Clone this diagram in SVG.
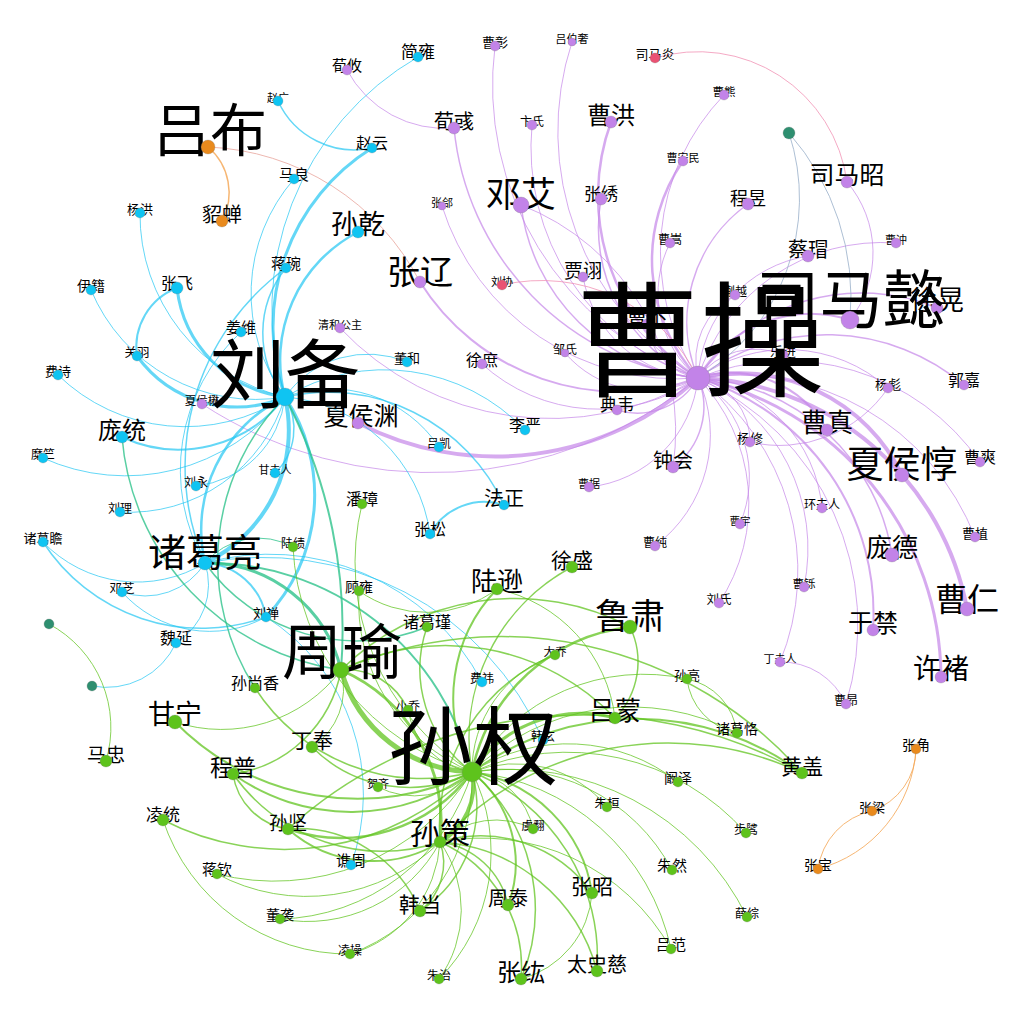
<svg xmlns="http://www.w3.org/2000/svg" width="1024" height="1024" viewBox="0 0 1024 1024">
<style>
.e path{fill:none;stroke-linecap:round}
.ew{stroke:#c586e8;stroke-opacity:.7}
.es{stroke:#22c6f2;stroke-opacity:.7}
.eu{stroke:#62c420;stroke-opacity:.75}
.ex{stroke:#2fc38c;stroke-opacity:.8}
.ep{stroke:#f08cb0;stroke-opacity:.75}
.eo{stroke:#f5a95a;stroke-opacity:.85}
.eg{stroke:#9fb4cc;stroke-opacity:.85}
.el{stroke:#e9a59c;stroke-opacity:.8}
circle{stroke:#777;stroke-opacity:.45;stroke-width:.6}
.nw{fill:#c283e8}.ns{fill:#0fc4f2}.nu{fill:#5ec31c}.no{fill:#e98a1d}.nr{fill:#ea5273}.nt{fill:#2e8f70}
text{font-family:"Noto Sans CJK SC","Noto Sans CJK JP",sans-serif;text-anchor:middle;fill:#000}
</style>
<rect width="1024" height="1024" fill="#fff"/>
<g id="edges" class="e">
<g class="ew">
<path d="M698 378A279 279 0 0 1 454 128" stroke-width="1.5"/>
<path d="M698 378A311 311 0 0 1 495 46"/>
<path d="M698 378A242 242 0 0 1 532 125"/>
<path d="M698 378A287 287 0 0 1 572 42"/>
<path d="M698 378A216 216 0 0 1 611 122" stroke-width="2.5"/>
<path d="M698 378A174 174 0 0 1 683 161" stroke-width="2.5"/>
<path d="M698 378A227 227 0 0 1 724 95"/>
<path d="M698 378A145 145 0 0 1 748 204" stroke-width="1.5"/>
<path d="M698 378A110 110 0 0 1 670 243"/>
<path d="M698 378A163 163 0 0 1 601 199" stroke-width="1.5"/>
<path d="M698 378A198 198 0 0 1 521 205" stroke-width="1.5"/>
<path d="M698 378A246 246 0 0 1 442 206"/>
<path d="M698 378A235 235 0 0 1 420 282" stroke-width="2"/>
<path d="M698 378A123 123 0 0 1 583 277"/>
<path d="M698 378A173 173 0 0 1 482 364"/>
<path d="M698 378A108 108 0 0 1 565 353"/>
<path d="M698 378A70 70 0 0 1 617 410" stroke-width="1.5"/>
<path d="M698 378A300 300 0 0 1 358 423" stroke-width="4"/>
<path d="M698 378A289 289 0 0 1 340 328"/>
<path d="M698 378A420 420 0 0 1 202 404"/>
<path d="M698 378A110 110 0 0 1 827 430" stroke-width="2"/>
<path d="M698 378A181 181 0 0 1 902 475" stroke-width="4"/>
<path d="M698 378A283 283 0 0 1 967 609" stroke-width="4"/>
<path d="M698 378A308 308 0 0 1 941 677" stroke-width="3"/>
<path d="M698 378A246 246 0 0 1 873 630" stroke-width="2"/>
<path d="M698 378A209 209 0 0 1 892 555" stroke-width="1.5"/>
<path d="M698 378A255 255 0 0 1 975 537"/>
<path d="M698 378A235 235 0 0 1 980 462"/>
<path d="M698 378A64 64 0 0 1 750 442"/>
<path d="M698 378A152 152 0 0 1 888 388"/>
<path d="M698 378A213 213 0 0 1 964 385" stroke-width="1.5"/>
<path d="M698 378A70 70 0 0 1 783 355"/>
<path d="M698 378A199 199 0 0 1 937 308" stroke-width="1.5"/>
<path d="M698 378A131 131 0 0 1 850 320" stroke-width="2"/>
<path d="M698 378A130 130 0 0 1 808 256"/>
<path d="M698 378A192 192 0 0 1 896 243"/>
<path d="M698 378A74 74 0 0 1 673 467" stroke-width="1.5"/>
<path d="M698 378A122 122 0 0 1 589 487"/>
<path d="M698 378A144 144 0 0 1 822 508"/>
<path d="M698 378A121 121 0 0 1 740 524"/>
<path d="M698 378A138 138 0 0 1 655 546"/>
<path d="M698 378A180 180 0 0 1 719 603"/>
<path d="M698 378A187 187 0 0 1 804 587"/>
<path d="M698 378A237 237 0 0 1 780 662"/>
<path d="M698 378A270 270 0 0 1 846 704"/>
<path d="M698 378A60 60 0 0 1 647 324"/>
<path d="M698 378A73 73 0 0 1 735 295"/>
<path d="M847 182A109 109 0 0 1 850 320"/>
<path d="M521 205A242 242 0 0 1 673 467"/>
<path d="M454 128A110 110 0 0 1 347 70"/>
<path d="M780 662A70 70 0 0 1 846 704"/>
<path d="M888 388A130 130 0 0 1 750 442"/>
</g>
<g class="ep">
<path d="M502 285A174 174 0 0 1 698 378"/>
<path d="M655 58A150 150 0 0 1 847 182"/>
</g>
<g class="eg">
<path d="M789 133A209 209 0 0 1 698 378"/>
<path d="M789 133A250 250 0 0 1 850 320"/>
</g>
<g class="el"><path d="M208 147A250 250 0 0 1 420 282"/></g>
<g class="eo">
<path d="M208 147A60 60 0 0 1 222 221" stroke-width="1.5"/>
<path d="M916 749A65 65 0 0 1 872 811"/>
<path d="M916 749A132 132 0 0 1 818 869"/>
<path d="M818 869A68 68 0 0 1 872 811"/>
</g>
<g class="es">
<path d="M285 397A292 292 0 0 1 418 57"/>
<path d="M285 397A211 211 0 0 1 372 148" stroke-width="3"/>
<path d="M285 397A174 174 0 0 1 294 179"/>
<path d="M285 397A144 144 0 0 1 358 232" stroke-width="2.5"/>
<path d="M285 397A103 103 0 0 1 286 268" stroke-width="1.5"/>
<path d="M285 397A178 178 0 0 1 91 290"/>
<path d="M285 397A187 187 0 0 1 140 213"/>
<path d="M285 397A124 124 0 0 1 177 288" stroke-width="3"/>
<path d="M285 397A123 123 0 0 1 137 356" stroke-width="3"/>
<path d="M285 397A182 182 0 0 1 58 375"/>
<path d="M285 397A134 134 0 0 1 122 437" stroke-width="2"/>
<path d="M285 397A200 200 0 0 1 43 458"/>
<path d="M285 397A61 61 0 0 1 275 473" stroke-width="1.5"/>
<path d="M285 397A100 100 0 0 1 196 486"/>
<path d="M285 397A162 162 0 0 1 120 512"/>
<path d="M285 397A147 147 0 0 1 205 563" stroke-width="4"/>
<path d="M205 563A147 147 0 0 1 285 397" stroke-width="2.5"/>
<path d="M285 397A177 177 0 0 1 266 617" stroke-width="3"/>
<path d="M285 397A101 101 0 0 1 407 362"/>
<path d="M285 397A194 194 0 0 1 525 430"/>
<path d="M285 397A130 130 0 0 1 439 447"/>
<path d="M285 397A194 194 0 0 1 504 505" stroke-width="1.5"/>
<path d="M285 397A159 159 0 0 1 430 534"/>
<path d="M137 356A63 63 0 0 1 177 288" stroke-width="2"/>
<path d="M372 148A84 84 0 0 1 278 101" stroke-width="1.5"/>
<path d="M430 534A62 62 0 0 1 504 505" stroke-width="2"/>
<path d="M205 563A187 187 0 0 1 241 332"/>
<path d="M205 563A130 130 0 0 1 43 542"/>
<path d="M266 617A189 189 0 0 1 43 542" stroke-width="1.5"/>
<path d="M205 563A70 70 0 0 1 122 592"/>
<path d="M266 617A117 117 0 0 1 122 592"/>
<path d="M205 563A65 65 0 0 1 266 617" stroke-width="2"/>
<path d="M205 563A68 68 0 0 1 176 643"/>
<path d="M176 643A76 76 0 0 1 92 686"/>
<path d="M205 563A240 240 0 0 1 482 682"/>
<path d="M205 563A245 245 0 0 1 286 268" stroke-width="1.5"/>
<path d="M266 617A209 209 0 0 1 351 865"/>
<path d="M205 563A305 305 0 0 1 543 740"/>
</g>
<g class="ex">
<path d="M285 397A500 500 0 0 1 341 670" stroke-width="2"/>
<path d="M255 688A234 234 0 0 1 285 397" stroke-width="1.5"/>
<path d="M205 563A139 139 0 0 1 341 670" stroke-width="3"/>
<path d="M205 563A271 271 0 0 1 472 772" stroke-width="2"/>
<path d="M427 627A186 186 0 0 1 205 563" stroke-width="1.5"/>
<path d="M205 563A70 70 0 0 1 293 547"/>
<path d="M341 670A257 257 0 0 1 122 437" stroke-width="1.5"/>
</g>
<g class="eu">
<path d="M49 624A117 117 0 0 1 106 761"/>
<path d="M472 772A140 140 0 0 1 341 670" stroke-width="5"/>
<path d="M472 772A183 183 0 0 1 630 627" stroke-width="2.5"/>
<path d="M472 772A157 157 0 0 1 497 589" stroke-width="2"/>
<path d="M472 772A130 130 0 0 1 615 718" stroke-width="3"/>
<path d="M472 772A65 65 0 0 1 440 842" stroke-width="4"/>
<path d="M472 772A163 163 0 0 1 288 829" stroke-width="2.5"/>
<path d="M472 772A144 144 0 0 1 592 893" stroke-width="2"/>
<path d="M472 772A117 117 0 0 1 508 905" stroke-width="2"/>
<path d="M472 772A256 256 0 0 1 175 722" stroke-width="2"/>
<path d="M472 772A280 280 0 0 1 802 773" stroke-width="2"/>
<path d="M472 772A203 203 0 0 1 233 774" stroke-width="2"/>
<path d="M472 772A125 125 0 0 1 420 911" stroke-width="1.5"/>
<path d="M472 772A200 200 0 0 1 597 971" stroke-width="1.5"/>
<path d="M472 772A180 180 0 0 1 521 979" stroke-width="1.5"/>
<path d="M472 772A194 194 0 0 1 572 567" stroke-width="1.5"/>
<path d="M472 772A246 246 0 0 1 362 504"/>
<path d="M472 772A183 183 0 0 1 359 591"/>
<path d="M472 772A128 128 0 0 1 427 627" stroke-width="1.5"/>
<path d="M472 772A122 122 0 0 1 555 655"/>
<path d="M472 772A199 199 0 0 1 687 679"/>
<path d="M472 772A227 227 0 0 1 737 733"/>
<path d="M472 772A177 177 0 0 1 678 782"/>
<path d="M472 772A118 118 0 0 1 607 807"/>
<path d="M472 772A189 189 0 0 1 672 870"/>
<path d="M472 772A71 71 0 0 1 533 829"/>
<path d="M472 772A225 225 0 0 1 671 949"/>
<path d="M472 772A238 238 0 0 1 746 833"/>
<path d="M472 772A264 264 0 0 1 747 917"/>
<path d="M472 772A266 266 0 0 1 163 820" stroke-width="1.5"/>
<path d="M472 772A233 233 0 0 1 217 874"/>
<path d="M472 772A205 205 0 0 1 280 919"/>
<path d="M472 772A186 186 0 0 1 350 954"/>
<path d="M472 772A179 179 0 0 1 439 979"/>
<path d="M472 772A80 80 0 0 1 378 787"/>
<path d="M472 772A137 137 0 0 1 312 747" stroke-width="1.5"/>
<path d="M472 772A198 198 0 0 1 255 688" stroke-width="1.5"/>
<path d="M472 772A75 75 0 0 1 408 710"/>
<path d="M472 772A245 245 0 0 1 293 547"/>
<path d="M341 670A67 67 0 0 1 408 710" stroke-width="1.5"/>
<path d="M341 670A167 167 0 0 1 440 842" stroke-width="3"/>
<path d="M341 670A247 247 0 0 1 630 627" stroke-width="1.5"/>
<path d="M341 670A235 235 0 0 1 615 718" stroke-width="1.5"/>
<path d="M341 670A128 128 0 0 1 233 774" stroke-width="1.5"/>
<path d="M341 670A400 400 0 0 1 802 773" stroke-width="1.5"/>
<path d="M341 670A69 69 0 0 1 312 747"/>
<path d="M341 670A149 149 0 0 1 175 722"/>
<path d="M440 842A186 186 0 0 1 555 655" stroke-width="1.5"/>
<path d="M440 842A174 174 0 0 1 597 971" stroke-width="1.5"/>
<path d="M440 842A137 137 0 0 1 592 893" stroke-width="1.5"/>
<path d="M440 842A137 137 0 0 1 521 979" stroke-width="1.5"/>
<path d="M440 842A81 81 0 0 1 508 905" stroke-width="1.5"/>
<path d="M440 842A61 61 0 0 1 420 911" stroke-width="1.5"/>
<path d="M440 842A118 118 0 0 1 439 979"/>
<path d="M440 842A128 128 0 0 1 288 829" stroke-width="2"/>
<path d="M440 842A184 184 0 0 1 233 774" stroke-width="1.5"/>
<path d="M440 842A313 313 0 0 1 802 773" stroke-width="1.5"/>
<path d="M440 842A217 217 0 0 1 671 949"/>
<path d="M440 842A123 123 0 0 1 350 954"/>
<path d="M440 842A190 190 0 0 1 217 874"/>
<path d="M440 842A150 150 0 0 1 280 919"/>
<path d="M440 842A81 81 0 0 1 533 829"/>
<path d="M288 829A65 65 0 0 1 233 774" stroke-width="1.5"/>
<path d="M288 829A440 440 0 0 1 802 773" stroke-width="1.5"/>
<path d="M288 829A132 132 0 0 1 420 911" stroke-width="1.5"/>
<path d="M350 954A195 195 0 0 1 163 820"/>
<path d="M497 589A117 117 0 0 1 359 591"/>
<path d="M497 589A150 150 0 0 1 615 718"/>
<path d="M630 627A80 80 0 0 1 615 718" stroke-width="1.5"/>
<path d="M687 679A62 62 0 0 1 737 733"/>
<path d="M737 733A62 62 0 0 1 687 679"/>
<path d="M592 893A95 95 0 0 1 521 979"/>
</g>
</g>
<g id="nodes">
<g id="n-t1"><circle class="nt" cx="789" cy="133" r="6"/></g>
<g id="n-t2"><circle class="nt" cx="49" cy="624" r="5"/></g>
<g id="n-t3"><circle class="nt" cx="92" cy="686" r="5"/></g>
<g id="n-曹宇"><text x="740" y="525" font-size="10.5">曹宇</text><circle class="nw" cx="740" cy="524" r="5"/></g>
<g id="n-吕伯奢"><text x="572" y="43" font-size="11">吕伯奢</text><circle class="nw" cx="572" cy="42" r="4"/></g>
<g id="n-曹安民"><text x="683" y="162" font-size="11">曹安民</text><circle class="nw" cx="683" cy="161" r="5"/></g>
<g id="n-张郃"><text x="442" y="207" font-size="11">张郃</text><circle class="nw" cx="442" cy="206" r="4"/></g>
<g id="n-曹冲"><text x="896" y="244" font-size="11">曹冲</text><circle class="nw" cx="896" cy="243" r="5"/></g>
<g id="n-刘协"><text x="502" y="286" font-size="11">刘协</text><circle class="nr" cx="502" cy="285" r="5"/></g>
<g id="n-清和公主"><text x="340" y="329" font-size="11">清和公主</text><circle class="nw" cx="340" cy="328" r="5"/></g>
<g id="n-曹据"><text x="589" y="488" font-size="11">曹据</text><circle class="nw" cx="589" cy="487" r="5"/></g>
<g id="n-丁夫人"><text x="780" y="663" font-size="11">丁夫人</text><circle class="nw" cx="780" cy="662" r="5"/></g>
<g id="n-赵广"><text x="278" y="102" font-size="11">赵广</text><circle class="ns" cx="278" cy="101" r="5"/></g>
<g id="n-甘夫人"><text x="275" y="474" font-size="11">甘夫人</text><circle class="ns" cx="275" cy="473" r="5"/></g>
<g id="n-贺齐"><text x="378" y="788" font-size="11">贺齐</text><circle class="nu" cx="378" cy="787" r="5"/></g>
<g id="n-曹熊"><text x="724" y="96" font-size="11.5">曹熊</text><circle class="nw" cx="724" cy="95" r="5"/></g>
<g id="n-夏侯楙"><text x="202" y="405" font-size="11.5">夏侯楙</text><circle class="nw" cx="202" cy="404" r="5"/></g>
<g id="n-曹铄"><text x="804" y="588" font-size="11.5">曹铄</text><circle class="nw" cx="804" cy="587" r="5"/></g>
<g id="n-大乔"><text x="555" y="656" font-size="11.5">大乔</text><circle class="nu" cx="555" cy="655" r="5"/></g>
<g id="n-虞翻"><text x="533" y="830" font-size="11.5">虞翻</text><circle class="nu" cx="533" cy="829" r="5"/></g>
<g id="n-卞氏"><text x="532" y="126" font-size="12">卞氏</text><circle class="nw" cx="532" cy="125" r="5"/></g>
<g id="n-曹嵩"><text x="670" y="244" font-size="12">曹嵩</text><circle class="nw" cx="670" cy="243" r="5"/></g>
<g id="n-蒯越"><text x="735" y="296" font-size="12">蒯越</text><circle class="nw" cx="735" cy="295" r="5"/></g>
<g id="n-邹氏"><text x="565" y="354" font-size="12">邹氏</text><circle class="nw" cx="565" cy="353" r="4"/></g>
<g id="n-环夫人"><text x="822" y="509" font-size="12">环夫人</text><circle class="nw" cx="822" cy="508" r="5"/></g>
<g id="n-曹纯"><text x="655" y="547" font-size="12">曹纯</text><circle class="nw" cx="655" cy="546" r="5"/></g>
<g id="n-曹昂"><text x="846" y="705" font-size="12">曹昂</text><circle class="nw" cx="846" cy="704" r="5"/></g>
<g id="n-吕凯"><text x="439" y="448" font-size="12">吕凯</text><circle class="ns" cx="439" cy="447" r="5"/></g>
<g id="n-糜竺"><text x="43" y="459" font-size="12">糜竺</text><circle class="ns" cx="43" cy="458" r="5"/></g>
<g id="n-刘永"><text x="196" y="487" font-size="12">刘永</text><circle class="ns" cx="196" cy="486" r="5"/></g>
<g id="n-刘理"><text x="120" y="513" font-size="12">刘理</text><circle class="ns" cx="120" cy="512" r="5"/></g>
<g id="n-费祎"><text x="482" y="683" font-size="12">费祎</text><circle class="ns" cx="482" cy="682" r="5"/></g>
<g id="n-韩玄"><text x="543" y="741" font-size="12">韩玄</text><circle class="ns" cx="543" cy="740" r="5"/></g>
<g id="n-陆绩"><text x="293" y="548" font-size="12">陆绩</text><circle class="nu" cx="293" cy="547" r="5"/></g>
<g id="n-小乔"><text x="408" y="711" font-size="12">小乔</text><circle class="nu" cx="408" cy="710" r="5"/></g>
<g id="n-步骘"><text x="746" y="834" font-size="12">步骘</text><circle class="nu" cx="746" cy="833" r="5"/></g>
<g id="n-薛综"><text x="747" y="918" font-size="12">薛综</text><circle class="nu" cx="747" cy="917" r="5"/></g>
<g id="n-凌操"><text x="350" y="955" font-size="12">凌操</text><circle class="nu" cx="350" cy="954" r="5"/></g>
<g id="n-朱治"><text x="439" y="980" font-size="12">朱治</text><circle class="nu" cx="439" cy="979" r="5"/></g>
<g id="n-关羽"><text x="137" y="357" font-size="12.5">关羽</text><circle class="ns" cx="137" cy="356" r="5"/></g>
<g id="n-邓芝"><text x="122" y="593" font-size="12.5">邓芝</text><circle class="ns" cx="122" cy="592" r="5"/></g>
<g id="n-刘氏"><text x="719" y="604" font-size="12.5">刘氏</text><circle class="nw" cx="719" cy="603" r="5"/></g>
<g id="n-朱桓"><text x="607" y="808" font-size="12.5">朱桓</text><circle class="nu" cx="607" cy="807" r="5"/></g>
<g id="n-曹彰"><text x="495" y="47" font-size="13">曹彰</text><circle class="nw" cx="495" cy="46" r="5"/></g>
<g id="n-司马炎"><text x="655" y="59" font-size="13">司马炎</text><circle class="nr" cx="655" cy="58" r="5"/></g>
<g id="n-乐进"><text x="783" y="356" font-size="13">乐进</text><circle class="nw" cx="783" cy="355" r="5"/></g>
<g id="n-杨彪"><text x="888" y="389" font-size="13">杨彪</text><circle class="nw" cx="888" cy="388" r="5"/></g>
<g id="n-杨修"><text x="750" y="443" font-size="13">杨修</text><circle class="nw" cx="750" cy="442" r="5"/></g>
<g id="n-曹植"><text x="975" y="538" font-size="13">曹植</text><circle class="nw" cx="975" cy="537" r="5"/></g>
<g id="n-杨洪"><text x="140" y="214" font-size="13">杨洪</text><circle class="ns" cx="140" cy="213" r="5"/></g>
<g id="n-费诗"><text x="58" y="376" font-size="13">费诗</text><circle class="ns" cx="58" cy="375" r="5"/></g>
<g id="n-董和"><text x="407" y="363" font-size="13">董和</text><circle class="ns" cx="407" cy="362" r="5"/></g>
<g id="n-诸葛瞻"><text x="43" y="543" font-size="13">诸葛瞻</text><circle class="ns" cx="43" cy="542" r="5"/></g>
<g id="n-刘禅"><text x="266" y="618" font-size="13">刘禅</text><circle class="ns" cx="266" cy="617" r="5"/></g>
<g id="n-孙亮"><text x="687" y="680" font-size="13">孙亮</text><circle class="nu" cx="687" cy="679" r="5"/></g>
<g id="n-张梁"><text x="872" y="812" font-size="13">张梁</text><circle class="no" cx="872" cy="811" r="5"/></g>
<g id="n-伊籍"><text x="91" y="291" font-size="14">伊籍</text><circle class="ns" cx="91" cy="290" r="5"/></g>
<g id="n-顾雍"><text x="359" y="592" font-size="14">顾雍</text><circle class="nu" cx="359" cy="591" r="5"/></g>
<g id="n-诸葛恪"><text x="737" y="734" font-size="14">诸葛恪</text><circle class="nu" cx="737" cy="733" r="5"/></g>
<g id="n-阚泽"><text x="678" y="783" font-size="14">阚泽</text><circle class="nu" cx="678" cy="782" r="5"/></g>
<g id="n-董袭"><text x="280" y="920" font-size="14">董袭</text><circle class="nu" cx="280" cy="919" r="5"/></g>
<g id="n-张角"><text x="916" y="750" font-size="14">张角</text><circle class="no" cx="916" cy="749" r="5"/></g>
<g id="n-张宝"><text x="818" y="870" font-size="14">张宝</text><circle class="no" cx="818" cy="869" r="5"/></g>
<g id="n-荀攸"><text x="347" y="71" font-size="15">荀攸</text><circle class="nw" cx="347" cy="70" r="5"/></g>
<g id="n-马良"><text x="294" y="180" font-size="15">马良</text><circle class="ns" cx="294" cy="179" r="5"/></g>
<g id="n-蒋琬"><text x="286" y="269" font-size="15">蒋琬</text><circle class="ns" cx="286" cy="268" r="5"/></g>
<g id="n-姜维"><text x="241" y="333" font-size="15">姜维</text><circle class="ns" cx="241" cy="332" r="5"/></g>
<g id="n-谯周"><text x="351" y="866" font-size="15">谯周</text><circle class="ns" cx="351" cy="865" r="5"/></g>
<g id="n-蒋钦"><text x="217" y="875" font-size="15">蒋钦</text><circle class="nu" cx="217" cy="874" r="5"/></g>
<g id="n-朱然"><text x="672" y="871" font-size="15">朱然</text><circle class="nu" cx="672" cy="870" r="5"/></g>
<g id="n-吕范"><text x="671" y="950" font-size="15">吕范</text><circle class="nu" cx="671" cy="949" r="5"/></g>
<g id="n-徐庶"><text x="482" y="366" font-size="16">徐庶</text><circle class="nw" cx="482" cy="364" r="5"/></g>
<g id="n-郭嘉"><text x="964" y="386" font-size="16">郭嘉</text><circle class="nw" cx="964" cy="385" r="5"/></g>
<g id="n-曹爽"><text x="980" y="463" font-size="16">曹爽</text><circle class="nw" cx="980" cy="462" r="5"/></g>
<g id="n-赵云"><text x="372" y="149" font-size="16">赵云</text><circle class="ns" cx="372" cy="148" r="5"/></g>
<g id="n-张飞"><text x="177" y="289" font-size="16">张飞</text><circle class="ns" cx="177" cy="288" r="6"/></g>
<g id="n-李严"><text x="525" y="431" font-size="16">李严</text><circle class="ns" cx="525" cy="430" r="5"/></g>
<g id="n-张松"><text x="430" y="535" font-size="16">张松</text><circle class="ns" cx="430" cy="534" r="5"/></g>
<g id="n-魏延"><text x="176" y="644" font-size="16">魏延</text><circle class="ns" cx="176" cy="643" r="5"/></g>
<g id="n-潘璋"><text x="362" y="505" font-size="16">潘璋</text><circle class="nu" cx="362" cy="504" r="5"/></g>
<g id="n-诸葛瑾"><text x="427" y="628" font-size="16">诸葛瑾</text><circle class="nu" cx="427" cy="627" r="5"/></g>
<g id="n-孙尚香"><text x="255" y="689" font-size="16">孙尚香</text><circle class="nu" cx="255" cy="688" r="5"/></g>
<g id="n-简雍"><text x="418" y="58" font-size="17">简雍</text><circle class="ns" cx="418" cy="57" r="5"/></g>
<g id="n-张绣"><text x="601" y="200" font-size="17">张绣</text><circle class="nw" cx="601" cy="199" r="6"/></g>
<g id="n-典韦"><text x="617" y="411" font-size="17">典韦</text><circle class="nw" cx="617" cy="410" r="5"/></g>
<g id="n-凌统"><text x="163" y="821" font-size="17">凌统</text><circle class="nu" cx="163" cy="820" r="6"/></g>
<g id="n-程昱"><text x="748" y="205" font-size="18">程昱</text><circle class="nw" cx="748" cy="204" r="6"/></g>
<g id="n-贾诩"><text x="583" y="278" font-size="19">贾诩</text><circle class="nw" cx="583" cy="277" r="5"/></g>
<g id="n-马忠"><text x="106" y="762" font-size="19">马忠</text><circle class="nu" cx="106" cy="761" r="6"/></g>
<g id="n-孙坚"><text x="288" y="830" font-size="19">孙坚</text><circle class="nu" cx="288" cy="829" r="6"/></g>
<g id="n-荀彧"><text x="454" y="129" font-size="20">荀彧</text><circle class="nw" cx="454" cy="128" r="6"/></g>
<g id="n-蔡瑁"><text x="808" y="257" font-size="20">蔡瑁</text><circle class="nw" cx="808" cy="256" r="6"/></g>
<g id="n-曹丕"><text x="647" y="325" font-size="20">曹丕</text><circle class="nw" cx="647" cy="324" r="5"/></g>
<g id="n-钟会"><text x="673" y="468" font-size="20">钟会</text><circle class="nw" cx="673" cy="467" r="6"/></g>
<g id="n-法正"><text x="504" y="506" font-size="20">法正</text><circle class="ns" cx="504" cy="505" r="5"/></g>
<g id="n-貂蝉"><text x="222" y="222" font-size="20">貂蝉</text><circle class="no" cx="222" cy="221" r="6"/></g>
<g id="n-周泰"><text x="508" y="906" font-size="20">周泰</text><circle class="nu" cx="508" cy="905" r="6"/></g>
<g id="n-太史慈"><text x="597" y="972" font-size="20">太史慈</text><circle class="nu" cx="597" cy="971" r="6"/></g>
<g id="n-徐盛"><text x="572" y="568" font-size="21">徐盛</text><circle class="nu" cx="572" cy="567" r="6"/></g>
<g id="n-丁奉"><text x="312" y="748" font-size="21">丁奉</text><circle class="nu" cx="312" cy="747" r="6"/></g>
<g id="n-黄盖"><text x="802" y="774" font-size="21">黄盖</text><circle class="nu" cx="802" cy="773" r="6"/></g>
<g id="n-韩当"><text x="420" y="912" font-size="21">韩当</text><circle class="nu" cx="420" cy="911" r="6"/></g>
<g id="n-张昭"><text x="592" y="894" font-size="21">张昭</text><circle class="nu" cx="592" cy="893" r="6"/></g>
<g id="n-程普"><text x="233" y="776" font-size="23">程普</text><circle class="nu" cx="233" cy="774" r="6"/></g>
<g id="n-曹洪"><text x="611" y="124" font-size="24">曹洪</text><circle class="nw" cx="611" cy="122" r="6"/></g>
<g id="n-庞统"><text x="122" y="439" font-size="24">庞统</text><circle class="ns" cx="122" cy="437" r="6"/></g>
<g id="n-张纮"><text x="521" y="981" font-size="24">张纮</text><circle class="nu" cx="521" cy="979" r="6"/></g>
<g id="n-司马昭"><text x="847" y="184" font-size="25">司马昭</text><circle class="nw" cx="847" cy="182" r="6"/></g>
<g id="n-夏侯渊"><text x="361" y="425" font-size="25">夏侯渊</text><circle class="nw" cx="358" cy="423" r="6"/></g>
<g id="n-于禁"><text x="873" y="632" font-size="25">于禁</text><circle class="nw" cx="873" cy="630" r="6"/></g>
<g id="n-曹真"><text x="827" y="432" font-size="26">曹真</text><circle class="nw" cx="827" cy="430" r="6"/></g>
<g id="n-庞德"><text x="892" y="557" font-size="26">庞德</text><circle class="nw" cx="892" cy="555" r="7"/></g>
<g id="n-陆逊"><text x="497" y="591" font-size="26">陆逊</text><circle class="nu" cx="497" cy="589" r="6"/></g>
<g id="n-吕蒙"><text x="615" y="720" font-size="26">吕蒙</text><circle class="nu" cx="615" cy="718" r="6"/></g>
<g id="n-徐晃"><text x="937" y="310" font-size="27">徐晃</text><circle class="nw" cx="937" cy="308" r="6"/></g>
<g id="n-孙乾"><text x="358" y="234" font-size="27">孙乾</text><circle class="ns" cx="358" cy="232" r="6"/></g>
<g id="n-甘宁"><text x="175" y="724" font-size="27">甘宁</text><circle class="nu" cx="175" cy="722" r="7"/></g>
<g id="n-许褚"><text x="941" y="679" font-size="28">许褚</text><circle class="nw" cx="941" cy="677" r="6"/></g>
<g id="n-孙策"><text x="440" y="844" font-size="30">孙策</text><circle class="nu" cx="440" cy="842" r="6"/></g>
<g id="n-曹仁"><text x="967" y="611" font-size="32">曹仁</text><circle class="nw" cx="967" cy="609" r="7"/></g>
<g id="n-张辽"><text x="420" y="284" font-size="33">张辽</text><circle class="nw" cx="420" cy="282" r="6"/></g>
<g id="n-邓艾"><text x="521" y="207" font-size="35">邓艾</text><circle class="nw" cx="521" cy="205" r="8"/></g>
<g id="n-鲁肃"><text x="630" y="629" font-size="35">鲁肃</text><circle class="nu" cx="630" cy="627" r="7"/></g>
<g id="n-夏侯惇"><text x="902" y="478" font-size="37">夏侯惇</text><circle class="nw" cx="902" cy="475" r="7"/></g>
<g id="n-诸葛亮"><text x="205" y="566" font-size="38">诸葛亮</text><circle class="ns" cx="205" cy="563" r="7"/></g>
<g id="n-吕布"><text x="210" y="151" font-size="57">吕布</text><circle class="no" cx="208" cy="147" r="7"/></g>
<g id="n-周瑜"><text x="342" y="674" font-size="60">周瑜</text><circle class="nu" cx="341" cy="670" r="8"/></g>
<g id="n-司马懿"><text x="851" y="322" font-size="63">司马懿</text><circle class="nw" cx="850" cy="320" r="9"/></g>
<g id="n-刘备"><text x="285" y="402" font-size="75">刘备</text><circle class="ns" cx="285" cy="397" r="9"/></g>
<g id="n-孙权"><text x="473" y="778" font-size="85">孙权</text><circle class="nu" cx="472" cy="772" r="10"/></g>
<g id="n-曹操"><text x="700" y="387" font-size="125">曹操</text><circle class="nw" cx="698" cy="378" r="12"/></g>
</g>
</svg>
